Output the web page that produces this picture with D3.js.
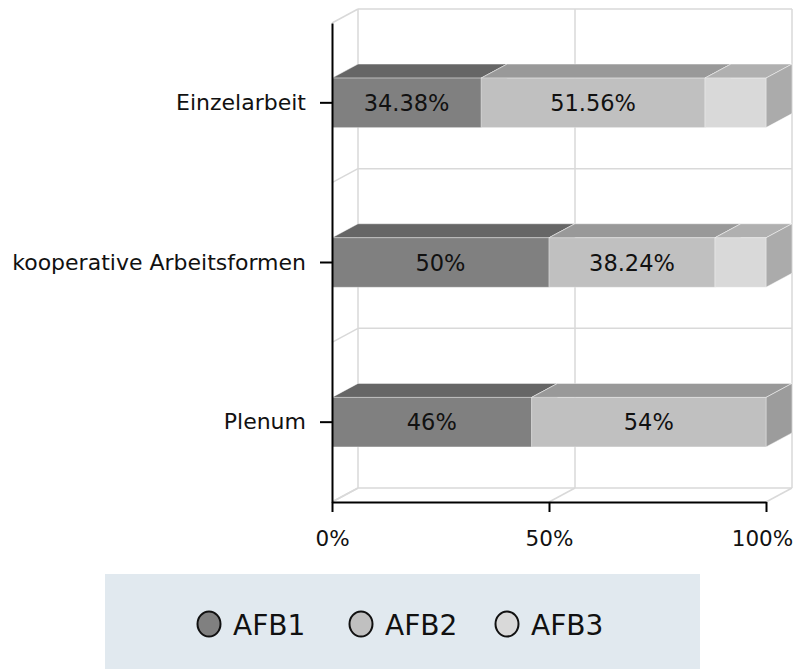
<!DOCTYPE html>
<html>
<head>
<meta charset="utf-8">
<script src="https://cdn.jsdelivr.net/npm/d3@7"></script>
<style>
  html, body { margin: 0; padding: 0; background: #fff; }
  svg { display: block; font-family: "DejaVu Sans", Verdana, sans-serif; }
</style>
</head>
<body>
<svg id="chart" width="801" height="669"></svg>
<script>
// ---- data ----
const categories = ["Einzelarbeit", "kooperative Arbeitsformen", "Plenum"];
const seriesNames = ["AFB1", "AFB2", "AFB3"];
const afb1 = [34.38, 50, 46];
const afb2 = [51.56, 38.24, 54];
const afb3 = [14.06, 11.76, 0];
const labels1 = ["34.38%", "50%", "46%"];
const labels2 = ["51.56%", "38.24%", "54%"];
const tickValues = [0, 50, 100];
const tickLabels = ["0%", "50%", "100%"];

// ---- styles ----
const front = ["#808080", "#c0c0c0", "#d9d9d9"];
const topC  = ["#666666", "#999999", "#b0b0b0"];
const sideC = ["#6e6e6e", "#9c9c9c", "#ababab"];
const DX = 26, DY = -14;

const svg = d3.select("#chart");
const x = d3.scaleLinear().domain([0, 100]).range([332, 766]);
const y = d3.scaleBand().domain(categories).range([23, 502]).paddingInner(0.69).paddingOuter(0.345);
const step = y.step();

const grid = svg.append("g").attr("stroke", "#d9d9d9").attr("stroke-width", 1.5).attr("fill", "none");
tickValues.forEach(t => {
  grid.append("line").attr("x1", x(t) + DX).attr("x2", x(t) + DX).attr("y1", 23 + DY).attr("y2", 502 + DY);
  grid.append("line").attr("x1", x(t)).attr("y1", 502).attr("x2", x(t) + DX).attr("y2", 502 + DY);
});
const bounds = [0, 1, 2, 3].map(i => 23 + i * step);
bounds.forEach(b => {
  grid.append("line").attr("x1", x(0) + DX).attr("x2", x(100) + DX).attr("y1", b + DY).attr("y2", b + DY);
  grid.append("line").attr("x1", x(0)).attr("y1", b).attr("x2", x(0) + DX).attr("y2", b + DY);
});

// bars
const rows = categories.map((c, i) => ({ cat: c, vals: [afb1[i], afb2[i], afb3[i]], labs: [labels1[i], labels2[i], ""] }));
const barG = svg.append("g");
rows.forEach(r => {
  const y0 = y(r.cat), h = y.bandwidth();
  let acc = 0;
  r.vals.forEach((v, s) => {
    if (v <= 0) return;
    const xa = x(acc), xb = x(acc + v);
    acc += v;
    const g = barG.append("g");
    g.append("path")
      .attr("d", `M${xa},${y0}L${xa + DX},${y0 + DY}L${xb + DX},${y0 + DY}L${xb},${y0}Z`)
      .attr("fill", topC[s]).attr("stroke", "rgba(255,255,255,0.45)").attr("stroke-width", 1);
    g.append("path")
      .attr("d", `M${xb},${y0}L${xb + DX},${y0 + DY}L${xb + DX},${y0 + h + DY}L${xb},${y0 + h}Z`)
      .attr("fill", sideC[s]).attr("stroke", "rgba(255,255,255,0.45)").attr("stroke-width", 1);
    g.append("rect")
      .attr("x", xa).attr("y", y0).attr("width", xb - xa).attr("height", h)
      .attr("fill", front[s]).attr("stroke", "rgba(255,255,255,0.3)").attr("stroke-width", 1);
    if (r.labs[s]) {
      g.append("text")
        .attr("x", (xa + xb) / 2).attr("y", y0 + h / 2 + 8)
        .attr("text-anchor", "middle")
        .attr("font-size", 22.5).attr("fill", "#111")
        .text(r.labs[s]);
    }
  });
});

// axes
const xAxis = d3.axisBottom(x).tickValues(tickValues).tickFormat((d, i) => tickLabels[i]).tickSize(10).tickSizeOuter(0).tickPadding(19);
const gx = svg.append("g").attr("transform", "translate(0,502)").call(xAxis);
gx.select(".domain").attr("stroke", "#000").attr("stroke-width", 2);
gx.selectAll(".tick line").attr("stroke", "#000").attr("stroke-width", 2);
gx.selectAll(".tick text").attr("font-size", 21.5).attr("font-family", "DejaVu Sans").attr("fill", "#111");
gx.selectAll(".tick text").filter((d) => d === 100).attr("dx", -4);

const yAxis = d3.axisLeft(y).tickSize(12).tickSizeOuter(0).tickPadding(14);
const gy = svg.append("g").attr("transform", "translate(332,0)").call(yAxis);
gy.select(".domain").attr("stroke", "#000").attr("stroke-width", 2);
gy.selectAll(".tick line").attr("stroke", "#000").attr("stroke-width", 2);
gy.selectAll(".tick text").attr("font-size", 22).attr("font-family", "DejaVu Sans").attr("fill", "#111");

// legend
const lg = svg.append("g");
lg.append("rect").attr("x", 105).attr("y", 574).attr("width", 595).attr("height", 95).attr("fill", "#e1e9ef");
const legendX = [209, 361, 507];
seriesNames.forEach((n, i) => {
  lg.append("ellipse").attr("cx", legendX[i]).attr("cy", 624).attr("rx", 11.5).attr("ry", 12.5)
    .attr("fill", front[i]).attr("stroke", "#111").attr("stroke-width", 2);
  lg.append("text").attr("x", legendX[i] + 24).attr("y", 635)
    .attr("font-size", 28).attr("fill", "#111").text(n);
});
</script>
</body>
</html>
